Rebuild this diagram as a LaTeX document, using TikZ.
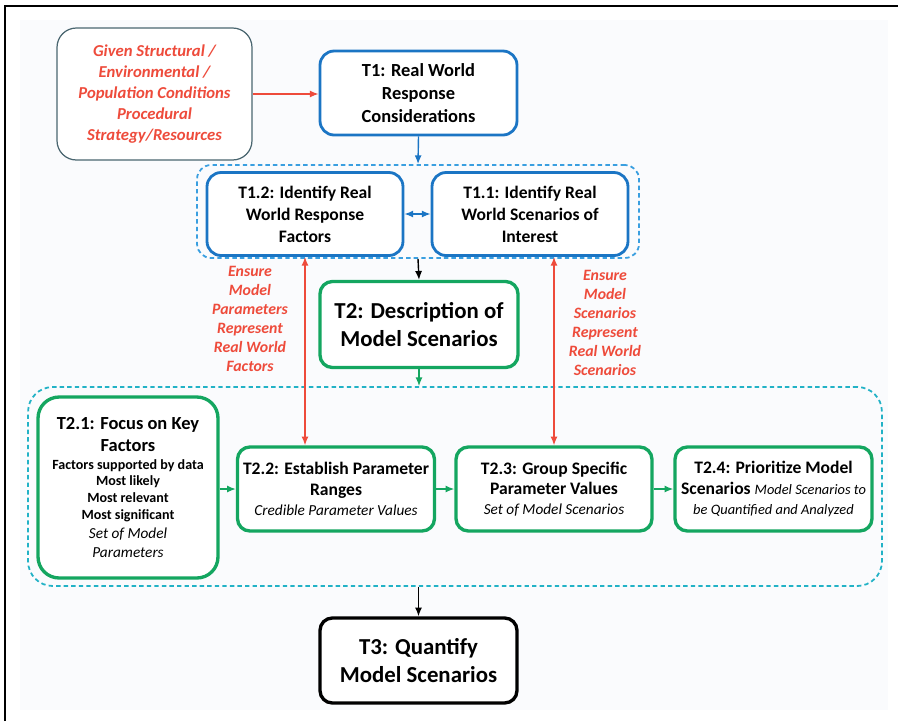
\documentclass[tikz,border=0pt]{standalone}
\usepackage{fontspec}
\setmainfont{Carlito}
\usetikzlibrary{arrows.meta}

\definecolor{tblue}{HTML}{1B75C4}
\definecolor{tgreen}{HTML}{14A660}
\definecolor{tred}{HTML}{EE4B3B}
\definecolor{dblue}{HTML}{3A9FE0}
\definecolor{dteal}{HTML}{22B2C6}
\definecolor{slate}{HTML}{4A6670}
\definecolor{paper}{HTML}{FAFBFD}

\newcommand{\outcome}{\fontsize{8.7}{10.5}\selectfont\mdseries\itshape}
\newcommand{\headline}{\fontsize{10.5}{12.5}\selectfont}
\newcommand{\keypoint}{\fontsize{8}{9.6}\selectfont}

\tikzset{
	task/.style = {draw, rounded corners = 7pt, align = center, fill = white, inner sep = 2pt},
	bluetask/.style = {task, draw = tblue, line width = 1.6pt, minimum width = 3.92cm, minimum height = 1.66cm, font = \fontsize{10}{12.5}\selectfont\bfseries},
	greentask/.style = {task, draw = tgreen, line width = 1.9pt, minimum width = 3.94cm, minimum height = 1.68cm, font = \fontsize{10}{11.5}\selectfont\bfseries},
	bigtask/.style = {task, line width = 1.9pt, minimum width = 3.94cm, minimum height = 1.7cm, font = \fontsize{13}{15.5}\selectfont\bfseries},
	group/.style = {draw, line width = 1pt, dash pattern = on 2.5pt off 1.8pt},
	note/.style = {text = tred, align = center, font = \fontsize{9}{10.8}\selectfont\bfseries\itshape},
	link/.style = {-{Latex[length = 5pt, width = 4pt]}, line width = 0.8pt},
	twolink/.style = {{Latex[length = 5pt, width = 4pt]}-{Latex[length = 5pt, width = 4pt]}, line width = 0.8pt}
}

\begin{document}
\begin{tikzpicture}[x = 0.02cm, y = -0.02cm]
	\useasboundingbox (0, 0) rectangle (898, 721);
	\fill[paper] (20, 20) rectangle (888, 710);
	\draw[line width = 0.8pt] (5, 721) |- (898, 6);

	% dashed groups
	\node[group, draw = dblue, rounded corners = 8pt, minimum width = 8.84cm, minimum height = 1.86cm] (grp1) at (418, 211.5) {};
	\node[group, draw = dteal, rounded corners = 14pt, minimum width = 17.08cm, minimum height = 3.98cm] (grp2) at (455, 486.5) {};

	\node[task, draw = slate, line width = 0.7pt, rounded corners = 11pt, minimum width = 3.9cm, minimum height = 2.64cm, note, font = \fontsize{9.5}{12}\selectfont\bfseries\itshape] (given) at (154.5, 94)
		{Given Structural /\\Environmental /\\Population Conditions\\Procedural\\Strategy/Resources};
	\node[bluetask, rounded corners = 8pt, minimum width = 3.94cm, minimum height = 1.68cm, font = \fontsize{10.5}{13}\selectfont\bfseries] (t1) at (418.5, 93) {T1: Real World\\Response\\Considerations};
	\node[bluetask, rounded corners = 8pt] (t12) at (305, 214) {T1.2: Identify Real\\World Response\\Factors};
	\node[bluetask, rounded corners = 8pt] (t11) at (530, 214) {T1.1: Identify Real\\World Scenarios of\\Interest};
	\node[bigtask, draw = tgreen, minimum width = 3.96cm, minimum height = 1.72cm] (t2) at (419, 324.5) {T2: Description of\\Model Scenarios};

	\node[note] (ensureparam) at (250, 319) {Ensure\\Model\\Parameters\\Represent\\Real World\\Factors};
	\node[note] (ensurescen) at (605, 323) {Ensure\\Model\\Scenarios\\Represent\\Real World\\Scenarios};

	\node[greentask, rounded corners = 12pt, minimum width = 3.6cm, minimum height = 3.62cm, font = \keypoint\bfseries] (t21) at (128, 487.5)
		{\headline T2.1: Focus on Key\\[3pt]\headline Factors\\[0.5pt]
		\keypoint Factors supported by data\\\keypoint Most likely\\\keypoint Most relevant\\\keypoint Most significant\\[1pt]
		\outcome Set of Model\\[1.5pt]\outcome Parameters};
	\node[greentask] (t22) at (336, 489) {T2.2: Establish Parameter\\Ranges\\\outcome Credible Parameter Values};
	\node[greentask, minimum width = 3.92cm] (t23) at (554, 489) {T2.3: Group Specific\\Parameter Values\\\outcome Set of Model Scenarios};
	\node[greentask] (t24) at (773.5, 489) {T2.4: Prioritize Model\\Scenarios {\outcome\fontsize{8.2}{10}\selectfont Model Scenarios to}\\\outcome\fontsize{8.2}{10}\selectfont be Quantified and Analyzed};

	\node[bigtask, draw = black] (t3) at (418.5, 660.5) {T3: Quantify\\Model Scenarios};

	\draw[link, tred] (given.east) -- (given.east -| t1.west);
	\draw[link, tblue] (t1.south) -- (grp1.north);
	\draw[twolink, tblue] (t12.east) -- (t11.west);
	\draw[link] (grp1.south) -- (t2.north);
	\draw[link, tgreen] (t2.south) -- (t2.south |- grp2.north);
	\draw[twolink, tred] (t12.south) -- (t12.south |- t22.north);
	\draw[twolink, tred] (t23.north) -- (t23.north |- t11.south);
	\draw[link, tgreen] (t22.west -| t21.east) -- (t22.west);
	\draw[link, tgreen] (t22.east) -- (t23.west);
	\draw[link, tgreen] (t23.east) -- (t24.west);
	\draw[link] (t3.north |- grp2.south) -- (t3.north);
\end{tikzpicture}
\end{document}
